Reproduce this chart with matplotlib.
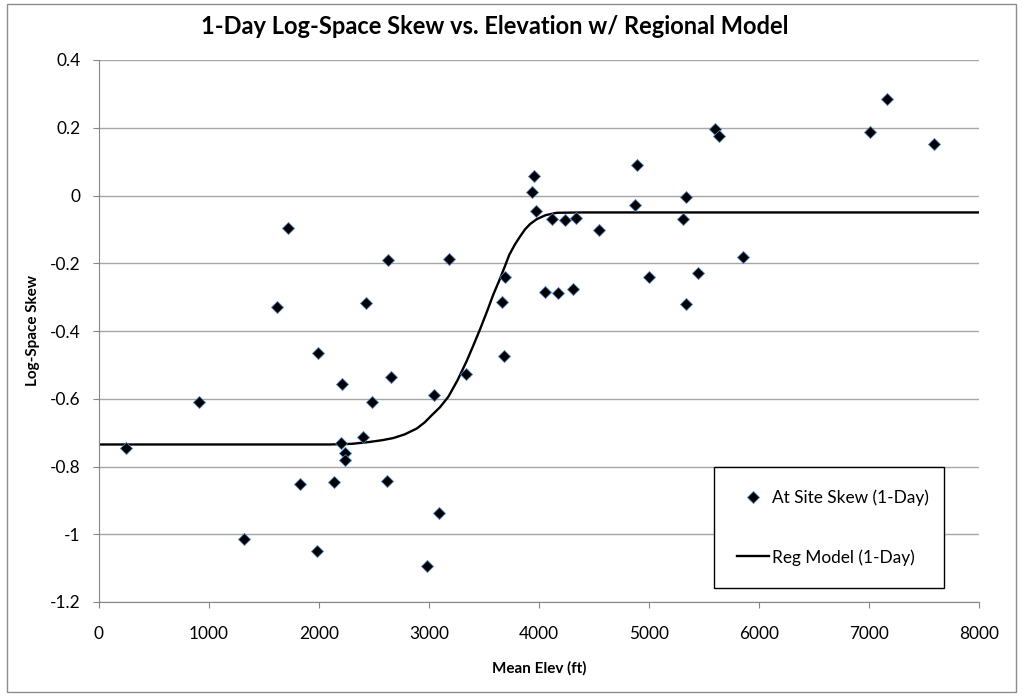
import matplotlib
matplotlib.use("Agg")
import matplotlib.pyplot as plt
from matplotlib.patches import Rectangle

# At-site skew, 1-day series
elev = [245, 912, 1321, 1615, 1715, 1824, 1979, 1994, 2133, 2206, 2197, 2236, 2236,
        2403, 2427, 2479, 2615, 2624, 2651, 2982, 3048, 3091, 3182, 3336, 3661, 3682,
        3694, 3936, 3955, 3970, 4055, 4121, 4176, 4239, 4312, 4333, 4545, 4873, 4894,
        5003, 5312, 5333, 5336, 5442, 5600, 5636, 5852, 7009, 7161, 7594]
skew = [-0.745, -0.609, -1.013, -0.329, -0.095, -0.853, -1.050, -0.466, -0.845, -0.556,
        -0.731, -0.761, -0.782, -0.713, -0.317, -0.609, -0.843, -0.191, -0.535, -1.095,
        -0.588, -0.938, -0.187, -0.526, -0.313, -0.473, -0.241, 0.009, 0.059, -0.046,
        -0.284, -0.068, -0.287, -0.071, -0.275, -0.065, -0.103, -0.029, 0.089, -0.240,
        -0.068, -0.003, -0.319, -0.228, 0.197, 0.177, -0.183, 0.188, 0.284, 0.151]

# Regional model curve
model_elev = [0, 2100, 2300, 2450, 2580, 2676, 2780, 2888, 2960, 3024, 3100, 3176, 3260,
              3342, 3400, 3464, 3530, 3585, 3640, 3691, 3730, 3782, 3830, 3873, 3920,
              3979, 4060, 4161, 4400, 8000]
model_skew = [-0.735, -0.735, -0.733, -0.728, -0.722, -0.716, -0.705, -0.688, -0.670,
              -0.649, -0.625, -0.594, -0.545, -0.489, -0.445, -0.395, -0.340, -0.292,
              -0.250, -0.208, -0.175, -0.144, -0.120, -0.100, -0.084, -0.070, -0.058,
              -0.051, -0.050, -0.050]

plt.rcParams["font.family"] = ["Lato", "DejaVu Sans"]

fig = plt.figure(figsize=(10.23, 6.96), dpi=100)
ax = fig.add_axes([99 / 1023, 94 / 696, 880 / 1023, 542 / 696])

ax.plot(model_elev, model_skew, color="black", lw=1.7, label="Reg Model (1-Day)",
        zorder=2, solid_joinstyle="round")
ax.plot(elev, skew, "D", ms=6.5, mfc="black", mec="#4f81bd", mew=0.6,
        ls="none", label="At Site Skew (1-Day)", zorder=3)

ax.set_xlim(0, 8000)
ax.set_ylim(-1.2, 0.4)
ax.set_xticks(range(0, 8001, 1000))
ax.set_yticks([-1.2, -1.0, -0.8, -0.6, -0.4, -0.2, 0, 0.2, 0.4])
ax.set_yticklabels(["-1.2", "-1", "-0.8", "-0.6", "-0.4", "-0.2", "0", "0.2", "0.4"])
ax.grid(axis="y", color="#a6a6a6", lw=1)
ax.set_axisbelow(True)
for s in ["top", "right"]:
    ax.spines[s].set_visible(False)
for s in ["left", "bottom"]:
    ax.spines[s].set_color("#868686")
ax.tick_params(direction="out", length=4.3, color="#868686", labelsize=12.4)
ax.tick_params(axis="y", pad=9)
ax.tick_params(axis="x", pad=13)

ax.set_xlabel("Mean Elev (ft)", fontsize=11, fontweight="bold", va="center")
ax.xaxis.set_label_coords(0.5, -0.122)
ax.set_ylabel("Log-Space Skew", fontsize=11, fontweight="bold", va="center")
ax.yaxis.set_label_coords(-0.075, 0.5)
fig.text(495 / 1023, 1 - 27 / 696, "1-Day Log-Space Skew vs. Elevation w/ Regional Model",
         ha="center", va="center", fontsize=17, fontweight="bold")

handles, labels = ax.get_legend_handles_labels()
leg = ax.legend(handles[::-1], labels[::-1], loc="lower left",
                bbox_to_anchor=(0.699, 0.026, 0.261, 0.229), mode="expand",
                borderaxespad=0, numpoints=1, fontsize=12.4, labelspacing=2.5,
                borderpad=1.3, handlelength=1.9, handletextpad=0.15,
                fancybox=False, framealpha=1)
leg.get_frame().set_edgecolor("black")
leg.get_frame().set_linewidth(1)

# chart border
fig.patches.append(Rectangle((7 / 1023, 4 / 696), 1009 / 1023, 688 / 696,
                             transform=fig.transFigure, fill=False,
                             edgecolor="#8c8c8c", lw=1))

fig.savefig("out.png", dpi=100)
